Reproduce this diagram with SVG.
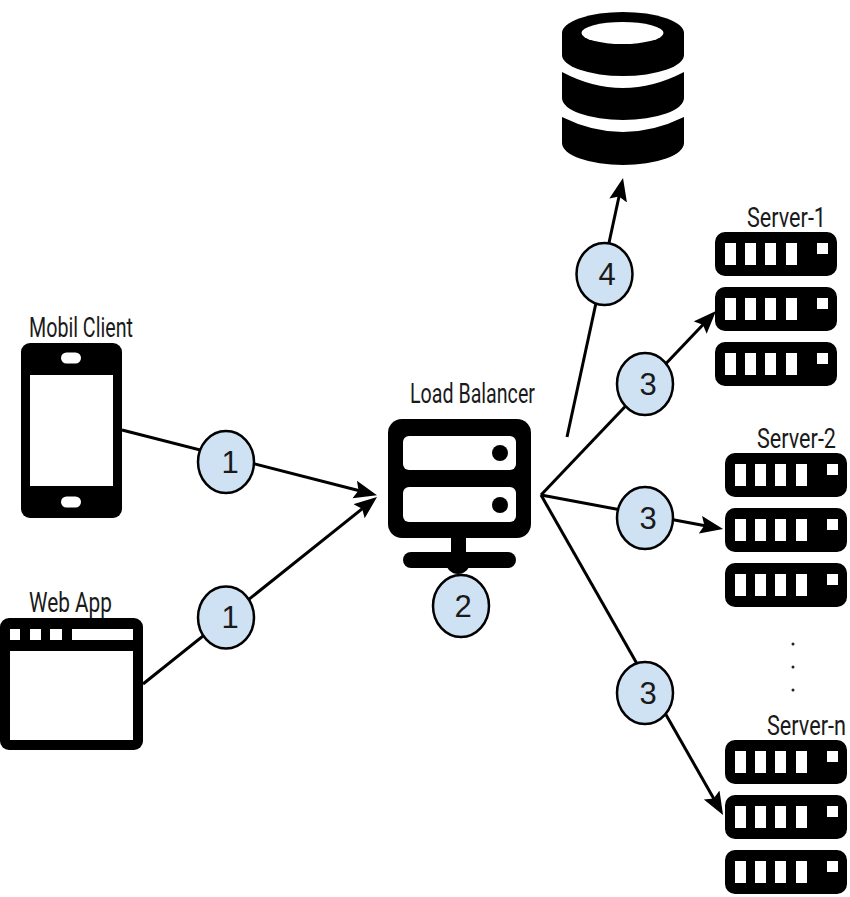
<svg xmlns="http://www.w3.org/2000/svg" width="850" height="897" viewBox="0 0 850 897">
<style>
.conn{fill:none;stroke:#000;stroke-width:3}
.badge{fill:#cfe2f3;stroke:#000;stroke-width:2.5}
.num{font-family:"Liberation Sans",Arial,sans-serif;font-size:31px;fill:#1a1a1a;text-anchor:middle}
.lbl{font-family:"Roboto","Liberation Sans",sans-serif;font-size:28px;fill:#1a1a1a}
.w{fill:#fff}
</style>
<defs>
<marker id="arrow" markerUnits="userSpaceOnUse" markerWidth="26" markerHeight="20" refX="13" refY="9.500" orient="auto">
<path d="M0 0.500L23 9.500L0 18.500L4 9.500Z" fill="#000"/>
</marker>
<g id="rack">
<rect width="122" height="44" rx="10" fill="#000"/>
<rect class="w" x="10" y="11" width="11" height="22"/>
<rect class="w" x="30" y="11" width="11" height="22"/>
<rect class="w" x="50" y="11" width="11" height="22"/>
<rect class="w" x="71" y="11" width="11" height="22"/>
<rect class="w" x="102" y="11" width="11" height="11"/>
</g>
</defs>
<rect width="850" height="897" fill="#fff"/>
<g id="connectors">
<path class="conn" marker-end="url(#arrow)" d="M122 430L367.3 492.7"/>
<path class="conn" marker-end="url(#arrow)" d="M143 684L369.2 503.2"/>
<path class="conn" marker-end="url(#arrow)" d="M541 495L709.100 318.200"/>
<path class="conn" marker-end="url(#arrow)" d="M541 495L713.200 527.200"/>
<path class="conn" marker-end="url(#arrow)" d="M541 495L718.100 806.300"/>
<path class="conn" marker-end="url(#arrow)" d="M567 437L620.900 187.800"/>
</g>
<g id="database">
<path d="M562 33A61 21 0 0 1 684 33V55A61 21 0 0 1 562 55Z" fill="#000"/>
<ellipse class="w" cx="622.500" cy="33" rx="41" ry="11"/>
<path d="M562 72Q622.500 104 684 72V98A61 22 0 0 1 562 98Z" fill="#000"/>
<path d="M562 117Q622.500 147 684 117V143A61 22 0 0 1 562 143Z" fill="#000"/>
</g>
<g id="mobile-client">
<rect x="21" y="343" width="101" height="175" rx="9" fill="#000"/>
<rect class="w" x="30" y="375" width="83" height="111"/>
<rect class="w" x="61" y="352.500" width="20" height="11" rx="5.500"/>
<rect class="w" x="61" y="496.500" width="20" height="11" rx="5.500"/>
<text class="lbl" transform="translate(29 337) scale(.77 1)" textLength="135" lengthAdjust="spacingAndGlyphs">Mobil Client</text>
</g>
<g id="web-app">
<rect x="0" y="618" width="143" height="132" rx="9" fill="#000"/>
<rect class="w" x="10" y="629" width="10" height="11"/>
<rect class="w" x="30" y="629" width="11" height="11"/>
<rect class="w" x="50" y="629" width="12" height="11"/>
<rect class="w" x="72" y="629" width="61" height="11"/>
<rect class="w" x="10" y="651" width="123" height="89"/>
<text class="lbl" transform="translate(29 612) scale(.77 1)" textLength="107.800" lengthAdjust="spacingAndGlyphs">Web App</text>
</g>
<g id="load-balancer">
<rect x="388" y="419" width="143" height="119" rx="14" fill="#000"/>
<rect class="w" x="403" y="436" width="113" height="34" rx="6"/>
<rect class="w" x="403" y="487" width="113" height="35" rx="6"/>
<circle cx="500" cy="453" r="8" fill="#000"/>
<circle cx="500" cy="505" r="8" fill="#000"/>
<rect x="451" y="538" width="15" height="20" fill="#000"/>
<rect x="403" y="552" width="113" height="16" rx="8" fill="#000"/>
<circle cx="458" cy="562" r="12" fill="#000"/>
<text class="lbl" transform="translate(410 403) scale(.77 1)" textLength="162.300" lengthAdjust="spacingAndGlyphs">Load Balancer</text>
</g>
<g id="server-1">
<use href="#rack" x="715" y="232"/>
<use href="#rack" x="715" y="287"/>
<use href="#rack" x="715" y="342"/>
<text class="lbl" transform="translate(747 227) scale(.77 1)" textLength="102.600" lengthAdjust="spacingAndGlyphs">Server-1</text>
</g>
<g id="server-2">
<use href="#rack" x="725" y="453"/>
<use href="#rack" x="725" y="508"/>
<use href="#rack" x="725" y="563"/>
<text class="lbl" transform="translate(757 448) scale(.77 1)" textLength="102.600" lengthAdjust="spacingAndGlyphs">Server-2</text>
</g>
<g id="server-n">
<use href="#rack" x="725" y="740"/>
<use href="#rack" x="725" y="795"/>
<use href="#rack" x="725" y="850"/>
<text class="lbl" transform="translate(767 735) scale(.77 1)" textLength="102.600" lengthAdjust="spacingAndGlyphs">Server-n</text>
</g>
<g id="ellipsis">
<circle cx="793" cy="644" r="1.500" fill="#222"/>
<circle cx="793" cy="667" r="1.500" fill="#222"/>
<circle cx="793" cy="690" r="1.500" fill="#222"/>
</g>
<g id="step-1a"><ellipse class="badge" cx="226" cy="462" rx="28" ry="31"/><text class="num" x="230" y="473">1</text></g>
<g id="step-1b"><ellipse class="badge" cx="226" cy="617.500" rx="28" ry="31"/><text class="num" x="230" y="628">1</text></g>
<g id="step-2"><ellipse class="badge" cx="461" cy="606" rx="28" ry="31"/><text class="num" x="463" y="617">2</text></g>
<g id="step-3a"><ellipse class="badge" cx="645" cy="384" rx="28" ry="31"/><text class="num" x="648" y="395">3</text></g>
<g id="step-3b"><ellipse class="badge" cx="645" cy="518" rx="28" ry="31"/><text class="num" x="648" y="529">3</text></g>
<g id="step-3c"><ellipse class="badge" cx="645" cy="693" rx="28" ry="31"/><text class="num" x="648" y="704">3</text></g>
<g id="step-4"><ellipse class="badge" cx="604.500" cy="274" rx="28" ry="31"/><text class="num" x="607" y="285">4</text></g>
</svg>
